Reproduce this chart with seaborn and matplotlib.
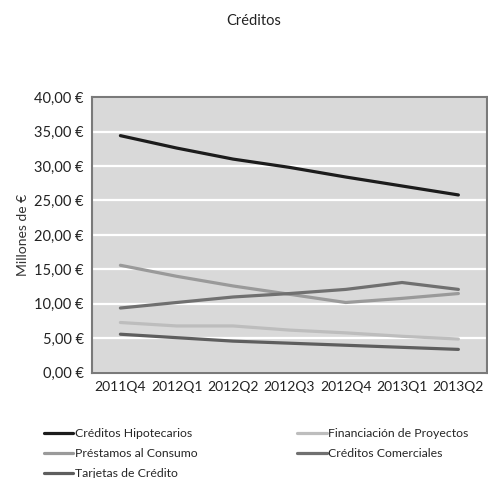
import pandas as pd
import matplotlib.pyplot as plt
import seaborn as sns

# Quarter labels and series values (millions of euros)
quarters = ["2011Q4", "2012Q1", "2012Q2", "2012Q3", "2012Q4", "2013Q1", "2013Q2"]
hipotecarios = [34.4, 32.6, 31.0, 29.8, 28.4, 27.1, 25.8]
financiacion = [7.3, 6.8, 6.8, 6.2, 5.8, 5.3, 4.9]
consumo = [15.6, 14.0, 12.6, 11.4, 10.2, 10.8, 11.5]
comerciales = [9.4, 10.2, 11.0, 11.5, 12.1, 13.1, 12.1]
tarjetas = [5.6, 5.1, 4.6, 4.3, 4.0, 3.7, 3.4]

series = {
    "Créditos Hipotecarios": hipotecarios,
    "Financiación de Proyectos": financiacion,
    "Préstamos al Consumo": consumo,
    "Créditos Comerciales": comerciales,
    "Tarjetas de Crédito": tarjetas,
}
colors = {
    "Créditos Hipotecarios": "#1c1c1c",
    "Financiación de Proyectos": "#bdbdbd",
    "Préstamos al Consumo": "#9a9a9a",
    "Créditos Comerciales": "#707070",
    "Tarjetas de Crédito": "#5e5e5e",
}

rows = []
for name, vals in series.items():
    for q, v in zip(quarters, vals):
        rows.append({"quarter": q, "value": v, "serie": name})
df = pd.DataFrame(rows)

sns.set_style("whitegrid", {"axes.facecolor": "#d9d9d9", "grid.color": "white",
                            "axes.edgecolor": "#7a7a7a"})
plt.rcParams['font.family'] = ['Lato', 'DejaVu Sans']

fig = plt.figure(figsize=(4.88, 4.78), dpi=100)
ax = fig.add_axes([0.189, 0.22, 0.808, 0.577])

sns.lineplot(data=df, x="quarter", y="value", hue="serie", palette=colors,
             linewidth=2.3, ax=ax, sort=False)

ax.set_xlim(-0.5, 6.5)
ax.set_ylim(0, 40)
ax.set_yticks(range(0, 41, 5))
ax.set_yticklabels([f"{v},00 €" for v in range(0, 41, 5)])
ax.grid(axis="y", color="white", linewidth=1.6)
ax.grid(axis="x", visible=False)
ax.tick_params(axis="y", length=0, labelsize=10.5, colors="#222222", pad=6)
ax.tick_params(axis="x", length=0, labelsize=10, colors="#222222", pad=6)
for s in ax.spines.values():
    s.set_linewidth(1.5)
ax.set_xlabel("")
ax.set_ylabel("Millones de €", fontsize=10, color="#333333", labelpad=4)

fig.suptitle("Créditos", x=0.52, y=0.97, fontsize=10.5, color="#222222")

handles, labels = ax.get_legend_handles_labels()
order = ["Créditos Hipotecarios", "Préstamos al Consumo", "Tarjetas de Crédito",
         "Financiación de Proyectos", "Créditos Comerciales"]
h = [handles[labels.index(n)] for n in order]
ax.legend(h, order, ncol=2, loc="upper left", bbox_to_anchor=(-0.15, -0.16),
          frameon=False, fontsize=8.8, handlelength=2.4, handletextpad=0.1,
          columnspacing=8.2, labelspacing=0.75)

fig.savefig("out.png", dpi=100)
